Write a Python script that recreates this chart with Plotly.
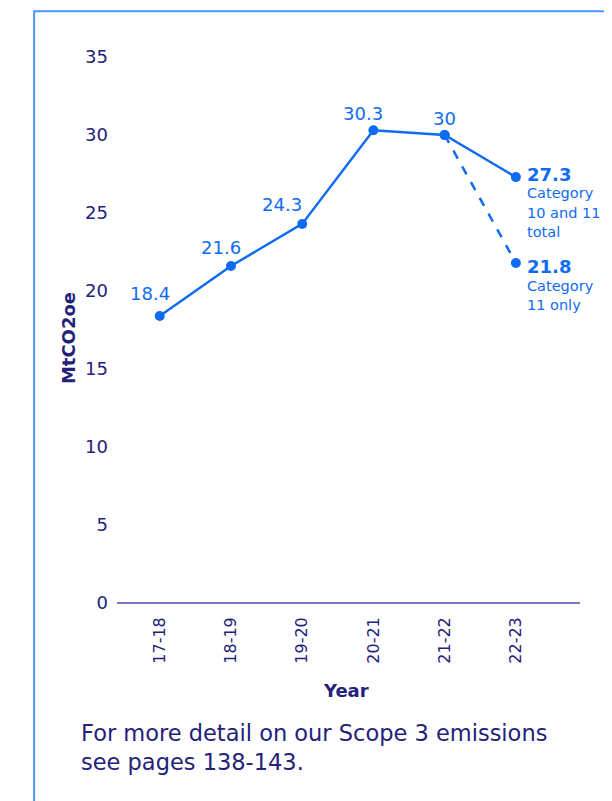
import plotly.graph_objects as go

years = ["17-18", "18-19", "19-20", "20-21", "21-22", "22-23"]
total = [18.4, 21.6, 24.3, 30.3, 30, 27.3]
cat11_years = ["21-22", "22-23"]
cat11 = [30, 21.8]
y_ticks = [0, 5, 10, 15, 20, 25, 30, 35]
total_note = ["Category", "10 and 11", "total"]
cat11_note = ["Category", "11 only"]

LINE = "#0f6cf2"
NAVY = "#23217a"
AXIS = "#7b79c6"
FRAME = "#4a96f5"
FONT = "DejaVu Sans"

fig = go.Figure()
fig.add_trace(go.Scatter(x=years, y=total, mode="lines+markers",
                         line=dict(color=LINE, width=2.5),
                         marker=dict(color=LINE, size=10), showlegend=False))
fig.add_trace(go.Scatter(x=cat11_years, y=cat11, mode="lines+markers",
                         line=dict(color=LINE, width=2.5, dash="dash"),
                         marker=dict(color=LINE, size=10), showlegend=False))

# simple value labels
shifts = [(-10, 22), (-10, 19), (-20, 19), (-10, 17), (0, 17)]
for (yr, v), (dx, dy) in zip(zip(years[:5], total[:5]), shifts):
    fig.add_annotation(x=yr, y=v, text=str(v), showarrow=False,
                       xshift=dx, yshift=dy,
                       font=dict(family=FONT, size=18, color=LINE))


def end_label(x, y, notes, first_shift):
    fig.add_annotation(x=x, y=y, text="<b>" + str(y) + "</b>", showarrow=False,
                       xanchor="left", yanchor="middle", xshift=9, yshift=first_shift,
                       font=dict(family=FONT, size=18, color=LINE))
    for i, t in enumerate(notes):
        fig.add_annotation(x=x, y=y, text=t, showarrow=False,
                           xanchor="left", yanchor="middle", xshift=9,
                           yshift=first_shift - 19 - 19.5 * i,
                           font=dict(family=FONT, size=14.5, color=LINE))


end_label(years[5], total[5], total_note, 3)
end_label(cat11_years[1], cat11[1], cat11_note, -4)

# axis titles
fig.add_annotation(xref="paper", yref="paper", x=-0.106, y=0.485, textangle=-90,
                   xanchor="center", yanchor="middle",
                   showarrow=False, text="<b>MtCO2oe</b>",
                   font=dict(family=FONT, size=18, color=NAVY))
fig.add_annotation(xref="paper", yref="paper", x=0.494, y=-0.161, showarrow=False,
                   xanchor="center", yanchor="middle",
                   text="<b>Year</b>", font=dict(family=FONT, size=18, color=NAVY))

fig.add_annotation(xref="paper", yref="paper", x=-0.082, y=-0.238,
                   xanchor="left", yanchor="middle", align="left", showarrow=False,
                   text="For more detail on our Scope 3 emissions",
                   font=dict(family=FONT, size=22.5, color=NAVY))
fig.add_annotation(xref="paper", yref="paper", x=-0.082, y=-0.291,
                   xanchor="left", yanchor="middle", align="left", showarrow=False,
                   text="see pages 138-143.",
                   font=dict(family=FONT, size=22.5, color=NAVY))

fig.add_shape(type="rect", xref="paper", yref="paper",
              x0=-0.179, x1=1.1, y0=-0.4, y1=1.084,
              line=dict(color=FRAME, width=2))

fig.update_layout(
    width=604, height=793,
    margin=dict(l=109, r=32, t=49, b=198),
    paper_bgcolor="white", plot_bgcolor="white",
    font=dict(family=FONT, color=NAVY),
    xaxis=dict(type="category", range=[-0.6, 5.9], tickangle=-90,
               showgrid=False, showline=False, ticks="", ticklabelstandoff=10,
               tickfont=dict(family=FONT, size=16, color=NAVY)),
    yaxis=dict(range=[0, 35], tickvals=y_ticks, showgrid=False, zeroline=True,
               zerolinecolor=AXIS, zerolinewidth=2, showline=False, ticks="",
               tickfont=dict(family=FONT, size=18, color=NAVY), ticklabelstandoff=8),
)

fig.write_html("out.html")
